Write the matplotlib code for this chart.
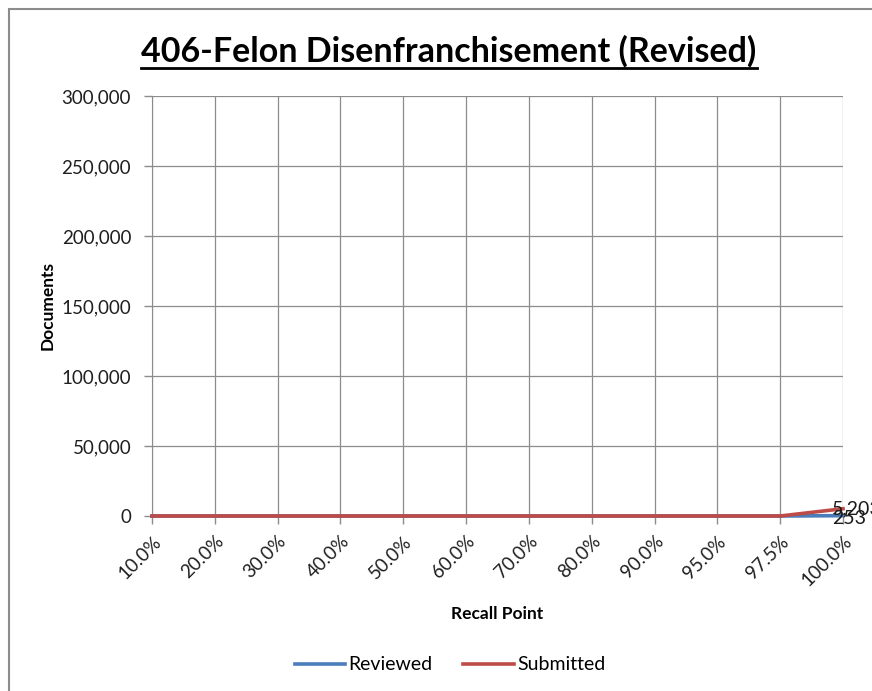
import matplotlib.pyplot as plt
from matplotlib.patches import Rectangle
from matplotlib.lines import Line2D
from matplotlib.ticker import FuncFormatter

# recall points on the x axis, document counts per series
recall_points = ["10.0%", "20.0%", "30.0%", "40.0%", "50.0%", "60.0%",
                 "70.0%", "80.0%", "90.0%", "95.0%", "97.5%", "100.0%"]
reviewed = [0, 0, 0, 0, 0, 0, 0, 0, 0, 0, 0, 253]
submitted = [0, 0, 0, 0, 0, 0, 0, 0, 0, 0, 0, 5203]

W, H = 872, 691
plt.rcParams['font.family'] = ['Lato', 'DejaVu Sans']

fig = plt.figure(figsize=(W / 100, H / 100), dpi=100)
ax = fig.add_axes([152 / W, 1 - 516 / H, (843 - 152) / W, (516 - 96) / H])

x = list(range(len(recall_points)))
ax.plot(x, reviewed, color="#4A7EBB", lw=2.6, label="Reviewed", clip_on=False, zorder=3)
ax.plot(x, submitted, color="#BE4B48", lw=2.6, label="Submitted", clip_on=False, zorder=3)

# data labels at the last point only
ax.annotate("{:,}".format(submitted[-1]), (x[-1], submitted[-1]), xytext=(-8, 0),
            textcoords="offset points", ha="left", va="center", fontsize=14,
            color="#1a1a1a", annotation_clip=False)
ax.annotate("{:,}".format(reviewed[-1]), (x[-1], reviewed[-1]), xytext=(-8, -2),
            textcoords="offset points", ha="left", va="center", fontsize=14,
            color="#1a1a1a", annotation_clip=False)

ax.set_xlim(0, len(x) - 1)
ax.set_ylim(0, 300000)
ax.set_yticks(range(0, 300001, 50000))
ax.yaxis.set_major_formatter(FuncFormatter(lambda v, p: "{:,.0f}".format(v)))
ax.set_xticks(x)
ax.set_xticklabels(recall_points, rotation=45, ha="right", va="top",
                   rotation_mode="anchor")
ax.tick_params(axis="both", labelsize=13.5, colors="#8c8c8c", labelcolor="#1f1f1f",
               length=6, width=1)
ax.tick_params(axis="y", pad=9)
ax.tick_params(axis="x", pad=6)
ax.grid(True, color="#8c8c8c", lw=0.9)
ax.set_axisbelow(True)
for s in ["top", "right"]:
    ax.spines[s].set_visible(False)
for s in ["left", "bottom"]:
    ax.spines[s].set_color("#8c8c8c")

ax.set_ylabel("Documents", fontsize=12.5, fontweight="bold", labelpad=4.5)
ax.set_xlabel("Recall Point", fontsize=12.5, fontweight="bold", labelpad=12)

fig.legend(loc="center", bbox_to_anchor=(450 / W, 1 - 665 / H), ncol=2, frameon=False,
           fontsize=14, handlelength=2.6, columnspacing=1.6, handletextpad=0.15)

title = fig.text(449 / W, 1 - 51 / H, "406-Felon Disenfranchisement (Revised)",
                 ha="center", va="center", fontsize=24.5, fontweight="bold")

# chart frame
fig.patches.append(Rectangle((8.5 / W, -0.1), 1.2, 1 - 8.5 / H + 0.1,
                             transform=fig.transFigure, fill=False,
                             ec="#8c8c8c", lw=1.5))

# underline under title
fig.canvas.draw()
bb = title.get_window_extent().transformed(fig.transFigure.inverted())
uy = bb.y0 - 0.001
fig.lines.append(Line2D([bb.x0, bb.x1], [uy, uy], transform=fig.transFigure,
                        color="black", lw=2))

fig.savefig("out.png", dpi=100)
